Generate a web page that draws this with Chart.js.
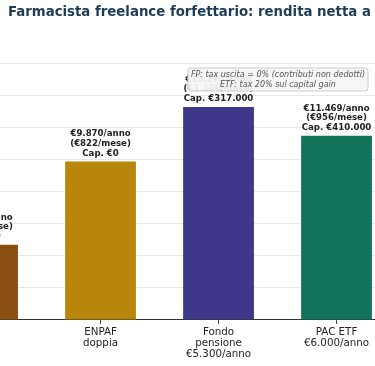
<!DOCTYPE html>
<html>
<head>
<meta charset="utf-8">
<script src="https://cdn.jsdelivr.net/npm/chart.js@4"></script>
<style>
  html, body { margin: 0; padding: 0; background: #fff; overflow: hidden; }
  #wrap { position: relative; width: 375px; height: 366px; overflow: hidden; }
  #title {
    position: absolute; left: 8px; top: 4px; white-space: nowrap;
    font: bold 13.3px/16px 'DejaVu Sans', sans-serif; color: #1d3b55;
  }
</style>
</head>
<body>
<div id="wrap">
  <div id="title">Farmacista freelance forfettario: rendita netta a 67 anni</div>
  <canvas id="chart"></canvas>
</div>
<script>
const categories = [
  ['ENPAF', 'singola'],
  ['ENPAF', 'doppia'],
  ['Fondo', 'pensione', '€5.300/anno'],
  ['PAC ETF', '€6.000/anno']
];
const renditaAnnua = [4680, 9870, 13270, 11469];
const renditaMese = [390, 822, 1106, 956];
const capitale = [0, 0, 317000, 410000];
const barColors = ['#8a4f10', '#b8860b', '#3f3789', '#10735a'];
const yTicks = [0, 2000, 4000, 6000, 8000, 10000, 12000, 14000, 16000];
const noteLines = ['FP: tax uscita = 0% (contributi non dedotti)', 'ETF: tax 20% sul capital gain'];

const fmt = n => String(n).replace(/\B(?=(\d{3})+(?!\d))/g, '.');

const barLabels = {
  id: 'barLabels',
  afterDatasetsDraw(chart) {
    const ctx = chart.ctx;
    const meta = chart.getDatasetMeta(0);
    ctx.save();
    ctx.font = "bold 8.6px 'DejaVu Sans'";
    ctx.fillStyle = '#222';
    ctx.textAlign = 'center';
    ctx.textBaseline = 'middle';
    meta.data.forEach((bar, i) => {
      const lines = [
        `€${fmt(renditaAnnua[i])}/anno`,
        `(€${fmt(renditaMese[i])}/mese)`,
        `Cap. €${fmt(capitale[i])}`
      ];
      lines.forEach((t, k) => {
        ctx.fillText(t, bar.x, bar.y - 8 - (lines.length - 1 - k) * 9.7);
      });
    });
    ctx.restore();
  }
};

const noteBox = {
  id: 'noteBox',
  afterDraw(chart) {
    const ctx = chart.ctx;
    const area = chart.chartArea;
    ctx.save();
    ctx.font = "italic 8px 'DejaVu Sans'";
    const w = Math.max(...noteLines.map(t => ctx.measureText(t).width)) + 6;
    const h = 23;
    const x = area.right - 7 - w;
    const y = area.top + 28;
    ctx.beginPath();
    ctx.roundRect(x, y, w, h, 3);
    ctx.fillStyle = 'rgba(244,245,247,0.93)';
    ctx.fill();
    ctx.strokeStyle = '#c9cdd3';
    ctx.lineWidth = 1;
    ctx.stroke();
    ctx.fillStyle = '#555';
    ctx.textAlign = 'center';
    ctx.textBaseline = 'middle';
    noteLines.forEach((t, k) => ctx.fillText(t, x + w / 2, y + 7 + k * 9.5));
    ctx.restore();
  }
};

new Chart(document.getElementById('chart'), {
  type: 'bar',
  data: {
    datasets: [{
      data: renditaAnnua.map((v, i) => ({ x: i, y: v })),
      backgroundColor: barColors,
      categoryPercentage: 1,
      barPercentage: 0.6,
      clip: false
    }]
  },
  options: {
    responsive: true,
    maintainAspectRatio: false,
    animation: false,
    devicePixelRatio: 1,
    layout: { padding: { top: 40, left: 0, right: 0, bottom: 3 } },
    plugins: { legend: { display: false }, tooltip: { enabled: false }, title: { display: false } },
    scales: {
      x: {
        type: 'linear',
        offset: false,
        min: 0.148,
        max: 3.326,
        afterBuildTicks: s => { s.ticks = categories.map((c, i) => ({ value: i })).filter(t => t.value >= s.min && t.value <= s.max); },
        ticks: {
          callback: v => categories[v],
          color: '#222',
          font: { family: 'DejaVu Sans', size: 10.3, lineHeight: 1.07 },
          padding: 3,
          maxRotation: 0,
          autoSkip: false
        },
        grid: { offset: false, drawOnChartArea: false, tickLength: 4, color: '#444' },
        border: { display: true, color: '#333', width: 1 }
      },
      y: {
        min: 0,
        max: 17440,
        afterBuildTicks: s => { s.ticks = yTicks.map(v => ({ value: v })); },
        ticks: { display: false },
        grid: { color: '#e8e8e8', drawTicks: false },
        border: { display: false }
      }
    }
  },
  plugins: [barLabels, noteBox]
});
</script>
</body>
</html>
